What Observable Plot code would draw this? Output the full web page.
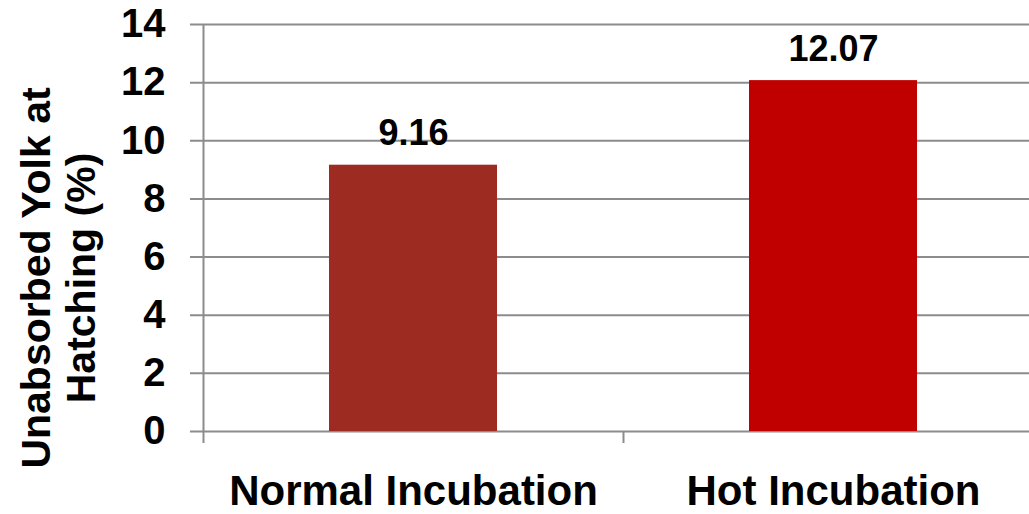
<!DOCTYPE html>
<html>
<head>
<meta charset="utf-8">
<script src="https://cdn.jsdelivr.net/npm/d3@7"></script>
<script src="https://cdn.jsdelivr.net/npm/@observablehq/plot@0.6"></script>
<style>
  html, body { margin: 0; padding: 0; background: #fff; }
  #chart svg { display: block; }
</style>
</head>
<body>
<div id="chart"></div>
<script>
const categories = ["Normal Incubation", "Hot Incubation"];
const values = [9.16, 12.07];
const barColors = ["#9E2B22", "#C00000"];
const yTicks = [0, 2, 4, 6, 8, 10, 12, 14];
const titleLines = ["Unabsorbed Yolk at", "Hatching (%)"];

const data = categories.map((c, i) => ({category: c, value: values[i], color: barColors[i]}));

const xRange = [203, 1043];
const padInner = 0.6, padOuter = 0.3;
const step = (xRange[1] - xRange[0]) / (categories.length - padInner + 2 * padOuter);
const gridColor = "#8c8c8c";
const font = "'Liberation Sans', Arial, Helvetica, sans-serif";

const chart = Plot.plot({
  width: 1029,
  height: 514,
  marginLeft: 203,
  marginRight: 0,
  marginTop: 24,
  marginBottom: 83,
  style: {fontFamily: font, fontWeight: "bold", color: "#000", background: "#fff"},
  x: {domain: categories, range: xRange, paddingInner: padInner, paddingOuter: padOuter, align: 0.5},
  y: {domain: [0, 14]},
  color: {type: "identity"},
  marks: [
    Plot.gridY(yTicks, {stroke: gridColor, strokeOpacity: 1, strokeWidth: 2, insetLeft: -13}),
    Plot.barY(data, {x: "category", y: "value", fill: "color"}),
    Plot.ruleX([categories[0]], {dx: -step / 2, stroke: gridColor, strokeWidth: 2}),
    Plot.axisX({ticks: categories, text: null, tickSize: 12, dx: -step / 2, stroke: gridColor, strokeWidth: 2, label: null}),
    Plot.axisX({tickSize: 0, tickPadding: 44, fontSize: 42, fontWeight: "bold", label: null}),
    Plot.axisY({ticks: yTicks, tickSize: 0, tickPadding: 38, fontSize: 40, fontWeight: "bold", label: null}),
    Plot.text(data, {x: "category", y: "value", text: d => d.value.toFixed(2), dy: -20, lineAnchor: "bottom", fontSize: 36, fontWeight: "bold", fill: "#000"}),
    Plot.text([titleLines.join("\n")], {text: d => d, frameAnchor: "left", rotate: -90, textAnchor: "middle", lineAnchor: "top", dx: -186, dy: 50, fontSize: 41, fontWeight: "bold", lineHeight: 1.1, fill: "#000"})
  ]
});
document.getElementById("chart").appendChild(chart);
</script>
</body>
</html>
